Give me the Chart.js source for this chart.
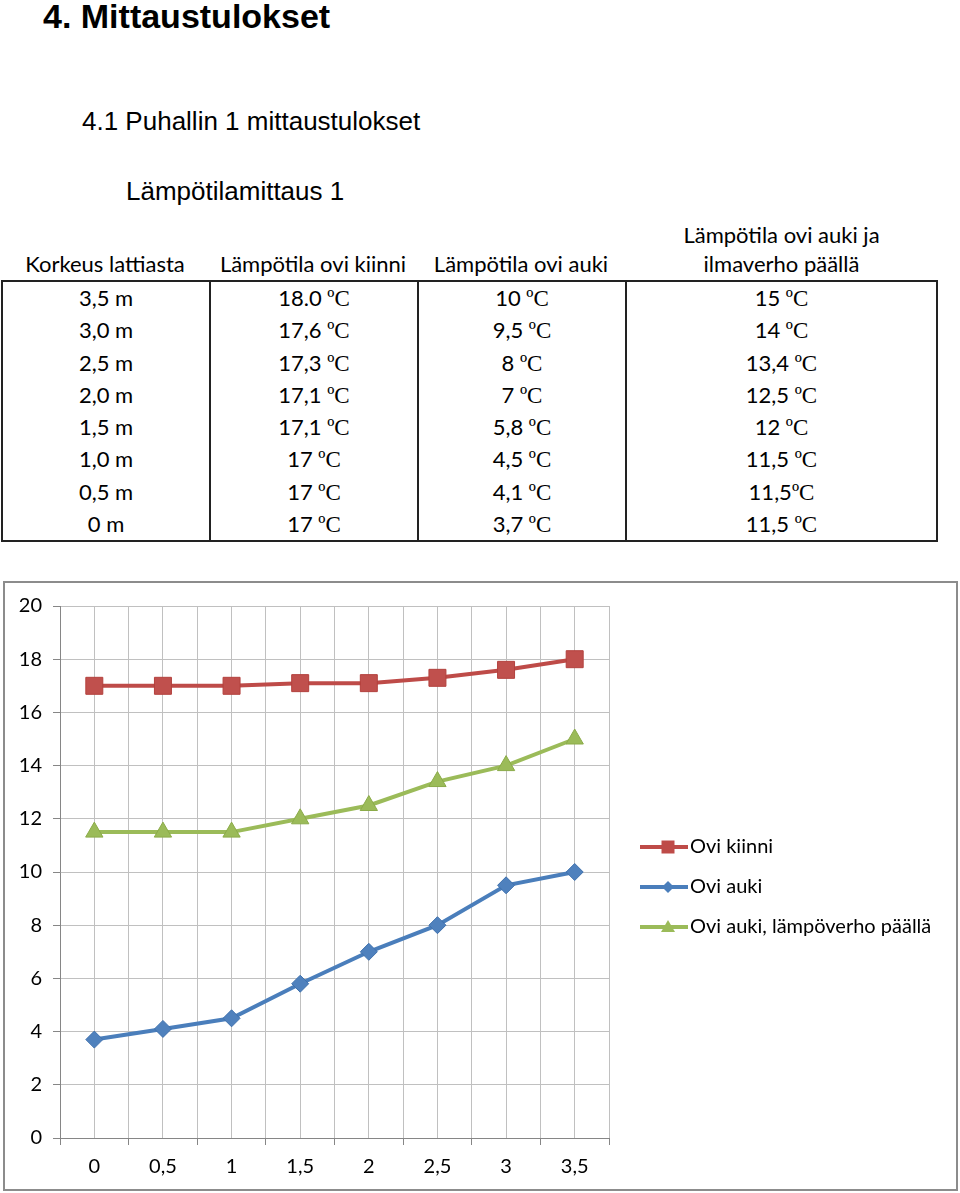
<!DOCTYPE html>
<html lang="fi">
<head>
<meta charset="utf-8">
<title>Mittaustulokset</title>
<script src="https://cdn.jsdelivr.net/npm/chart.js@4.4.1/dist/chart.umd.min.js"></script>
<style>
    body {
        margin: 0;
        width: 960px;
        height: 1193px;
        position: relative;
        overflow: hidden;
        background: #fff;
        color: #000;
        font-family: 'Liberation Sans', Arial, sans-serif;
    }
    h1, h2, h3 { position: absolute; margin: 0; white-space: nowrap; }
    h1 { left: 43px; top: -1px; font-size: 34px; line-height: 34px; font-weight: bold; }
    h2 { left: 82px; top: 108px; font-size: 26px; line-height: 26px; font-weight: normal; }
    h3 { left: 126px; top: 178px; font-size: 26px; line-height: 26px; font-weight: normal; }

    .tbl {
        position: absolute;
        left: 1px;
        top: 220px;
        display: grid;
        grid-template-columns: 208px 208px 208px 313px;
        font-family: Lato, sans-serif;
        font-size: 22px;
    }
    .th {
        height: 58px;
        padding-bottom: 2px;
        border-bottom: 2px solid #222;
        display: flex;
        align-items: flex-end;
        justify-content: center;
        text-align: center;
        line-height: 29px;
        white-space: nowrap;
    }
    .td {
        height: 32.3px;
        line-height: 32.3px;
        text-align: center;
        border-left: 2px solid #222;
        white-space: nowrap;
    }
    .td.last { border-right: 2px solid #222; }
    .td.bottom { border-bottom: 2px solid #222; }
    .u { font-family: 'Liberation Serif', serif; font-size: 23px; }

    .chartbox {
        position: absolute;
        left: 3px;
        top: 581px;
        width: 955px;
        height: 610px;
        box-sizing: border-box;
        border: 2px solid #8c8c8c;
    }
    .chartbox canvas { display: block; }
</style>
</head>
<body>
<h1>4. Mittaustulokset</h1>
<h2>4.1 Puhallin 1 mittaustulokset</h2>
<h3>Lämpötilamittaus 1</h3>

<div class="tbl">
    <div class="th">Korkeus lattiasta</div>
    <div class="th">Lämpötila ovi kiinni</div>
    <div class="th">Lämpötila ovi auki</div>
    <div class="th">Lämpötila ovi auki ja<br>ilmaverho päällä</div>

    <div class="td">3,5 m</div><div class="td">18.0 <span class="u">ºC</span></div><div class="td">10 <span class="u">ºC</span></div><div class="td last">15 <span class="u">ºC</span></div>
    <div class="td">3,0 m</div><div class="td">17,6 <span class="u">ºC</span></div><div class="td">9,5 <span class="u">ºC</span></div><div class="td last">14 <span class="u">ºC</span></div>
    <div class="td">2,5 m</div><div class="td">17,3 <span class="u">ºC</span></div><div class="td">8 <span class="u">ºC</span></div><div class="td last">13,4 <span class="u">ºC</span></div>
    <div class="td">2,0 m</div><div class="td">17,1 <span class="u">ºC</span></div><div class="td">7 <span class="u">ºC</span></div><div class="td last">12,5 <span class="u">ºC</span></div>
    <div class="td">1,5 m</div><div class="td">17,1 <span class="u">ºC</span></div><div class="td">5,8 <span class="u">ºC</span></div><div class="td last">12 <span class="u">ºC</span></div>
    <div class="td">1,0 m</div><div class="td">17 <span class="u">ºC</span></div><div class="td">4,5 <span class="u">ºC</span></div><div class="td last">11,5 <span class="u">ºC</span></div>
    <div class="td">0,5 m</div><div class="td">17 <span class="u">ºC</span></div><div class="td">4,1 <span class="u">ºC</span></div><div class="td last">11,5<span class="u">ºC</span></div>
    <div class="td bottom">0 m</div><div class="td bottom">17 <span class="u">ºC</span></div><div class="td bottom">3,7 <span class="u">ºC</span></div><div class="td last bottom">11,5 <span class="u">ºC</span></div>
</div>

<div class="chartbox">
    <canvas id="chart" width="951" height="606"></canvas>
</div>

<script>
const heights = [0, 0.5, 1, 1.5, 2, 2.5, 3, 3.5];
const oviKiinni = [17, 17, 17, 17.1, 17.1, 17.3, 17.6, 18];
const oviAuki = [3.7, 4.1, 4.5, 5.8, 7, 8, 9.5, 10];
const oviAukiVerho = [11.5, 11.5, 11.5, 12, 12.5, 13.4, 14, 15];
const seriesNames = ['Ovi kiinni', 'Ovi auki', 'Ovi auki, lämpöverho päällä'];
const seriesColors = ['#BE4B48', '#4A7EBB', '#9BBB59'];
const seriesMarkers = ['rect', 'rectRot', 'triangle'];

const FONT = 'Lato';
const TICK_SIZE = 20;
const LEGEND_SIZE = 20;
const ICON_W = 48;
const CANVAS_W = 951;
const PLOT_RIGHT = 604;

// legend position inside the canvas
const LEGEND_X = 635;
const LEGEND_Y = 264;
const LEGEND_GAP = 40;

function points(values) {
    return heights.map((h, i) => ({ x: h, y: values[i] }));
}

// small picture for the legend: line with the marker in the middle
function legendIcon(color, marker) {
    const c = document.createElement('canvas');
    c.width = ICON_W;
    c.height = 22;
    const ctx = c.getContext('2d');
    ctx.strokeStyle = color;
    ctx.lineWidth = 4;
    ctx.beginPath();
    ctx.moveTo(0, 11);
    ctx.lineTo(ICON_W, 11);
    ctx.stroke();

    const cx = 28, cy = 11;
    ctx.fillStyle = color;
    ctx.beginPath();
    if (marker === 'rect') {
        ctx.rect(cx - 6.5, cy - 6.5, 13, 13);
    } else if (marker === 'rectRot') {
        ctx.moveTo(cx, cy - 6);
        ctx.lineTo(cx + 6, cy);
        ctx.lineTo(cx, cy + 6);
        ctx.lineTo(cx - 6, cy);
        ctx.closePath();
    } else {
        ctx.moveTo(cx, cy - 7);
        ctx.lineTo(cx + 7, cy + 5);
        ctx.lineTo(cx - 7, cy + 5);
        ctx.closePath();
    }
    ctx.fill();
    return c;
}

const icons = seriesColors.map((c, i) => legendIcon(c, seriesMarkers[i]));

// Legend on the right side, drawn after the chart
const sideLegend = {
    id: 'sideLegend',
    afterDraw(chart) {
        const ctx = chart.ctx;
        ctx.save();
        ctx.font = LEGEND_SIZE + 'px ' + FONT;
        ctx.fillStyle = '#000';
        ctx.textBaseline = 'middle';
        ctx.textAlign = 'left';
        chart.data.datasets.forEach((ds, i) => {
            const y = LEGEND_Y + i * LEGEND_GAP;
            ctx.drawImage(icons[i], LEGEND_X, y - 11);
            ctx.fillText(ds.label, LEGEND_X + ICON_W + 2, y);
        });
        ctx.restore();
    }
};

const tickFont = { family: FONT, size: TICK_SIZE };
const isHalfStep = v => Math.abs(v * 2 - Math.round(v * 2)) < 1e-9;

new Chart(document.getElementById('chart'), {
    type: 'line',
    data: {
        datasets: [
            {
                label: seriesNames[0],
                data: points(oviKiinni),
                borderColor: seriesColors[0],
                backgroundColor: '#C0504D',
                pointBorderColor: '#B3403D',
                borderWidth: 4,
                pointStyle: 'rect',
                pointRadius: 12,
                pointBorderWidth: 1
            },
            {
                label: seriesNames[1],
                data: points(oviAuki),
                borderColor: seriesColors[1],
                backgroundColor: '#4F81BD',
                pointBorderColor: '#3F71AD',
                borderWidth: 4,
                pointStyle: 'rectRot',
                pointRadius: 8.5,
                pointBorderWidth: 1
            },
            {
                label: seriesNames[2],
                data: points(oviAukiVerho),
                borderColor: seriesColors[2],
                backgroundColor: '#9BBB59',
                pointBorderColor: '#8BAB49',
                borderWidth: 4,
                pointStyle: 'triangle',
                pointRadius: 10,
                pointBorderWidth: 1
            }
        ]
    },
    options: {
        responsive: false,
        animation: false,
        devicePixelRatio: 1,
        layout: {
            padding: { top: 23, bottom: 0, left: 0, right: CANVAS_W - PLOT_RIGHT }
        },
        plugins: {
            tooltip: { enabled: false },
            legend: { display: false }
        },
        scales: {
            x: {
                type: 'linear',
                min: -0.25,
                max: 3.75,
                afterFit: scale => { scale.height = 51; },
                ticks: {
                    stepSize: 0.25,
                    autoSkip: false,
                    maxRotation: 0,
                    padding: 10,
                    color: '#000',
                    font: tickFont,
                    callback: v => isHalfStep(v) && v >= 0 ? String(v).replace('.', ',') : ''
                },
                grid: {
                    color: '#c0c0c0',
                    tickLength: 7,
                    tickColor: ctx => (ctx.tick && isHalfStep(ctx.tick.value)) ? 'rgba(0,0,0,0)' : '#868686'
                },
                border: { color: '#868686' }
            },
            y: {
                min: 0,
                max: 20,
                afterFit: scale => { scale.width = 55; },
                ticks: {
                    stepSize: 2,
                    padding: 11,
                    color: '#000',
                    font: tickFont
                },
                grid: {
                    color: '#c0c0c0',
                    tickLength: 7,
                    tickColor: '#868686'
                },
                border: { color: '#868686' }
            }
        }
    },
    plugins: [sideLegend]
});
</script>
</body>
</html>
